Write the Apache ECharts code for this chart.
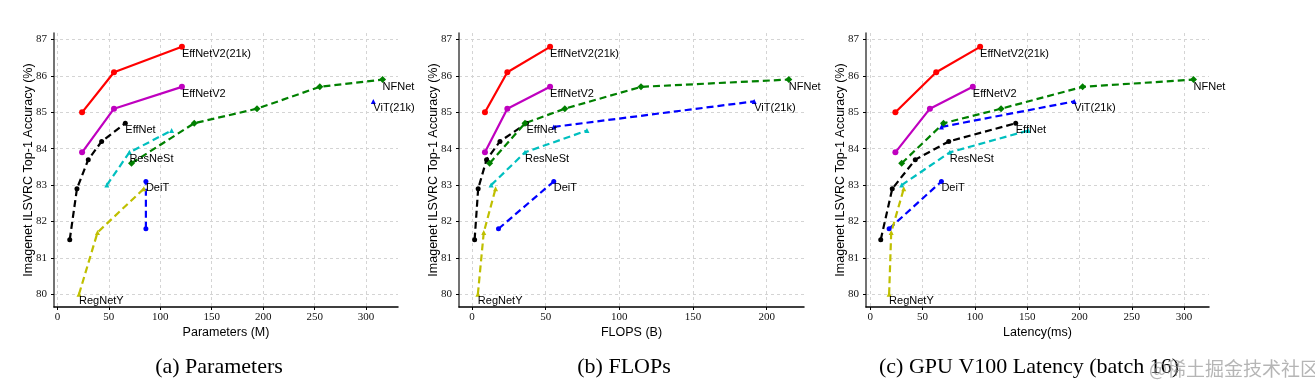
<!DOCTYPE html>
<html>
<head>
<meta charset="utf-8">
<script src="https://cdn.jsdelivr.net/npm/echarts@6/dist/echarts.min.js"></script>
<style>html,body{margin:0;padding:0;background:#fff}#c{width:1315px;height:384px}</style>
</head>
<body>
<div id="c"></div>
<script>
// ---- data ----
const models = ['EffNetV2(21k)', 'EffNetV2', 'EffNet', 'ResNeSt', 'NFNet', 'ViT(21k)', 'DeiT', 'RegNetY'];
const labelIndex = [2, 2, 4, 1, 4, 1, 1, 0];

const accEffNetV2_21k = [85.0, 86.1, 86.8];
const accEffNetV2 = [83.9, 85.1, 85.7];
const accEffNet = [81.5, 82.9, 83.7, 84.2, 84.7];
const accResNeSt = [83.0, 83.9, 84.5];
const accNFNet = [83.6, 84.7, 85.1, 85.7, 85.9];
const accViT = [84.6, 85.3];
const accDeiT = [81.8, 83.1];
const accRegNetY = [80.0, 81.7, 82.9];

const paramsEffNetV2_21k = [24, 55, 121];
const paramsEffNetV2 = [24, 55, 121];
const paramsEffNet = [12, 19, 30, 43, 66];
const paramsResNeSt = [48, 70, 111];
const paramsNFNet = [72, 133, 194, 255, 316];
const paramsViT = [null, 307];
const paramsDeiT = [86, 86];
const paramsRegNetY = [21, 39, 84];

const flopsEffNetV2_21k = [8.8, 24, 53];
const flopsEffNetV2 = [8.8, 24, 53];
const flopsEffNet = [1.8, 4.2, 9.9, 19, 37];
const flopsResNeSt = [13, 36, 78];
const flopsNFNet = [12, 36, 63, 114.7, 215];
const flopsViT = [55.5, 191.5];
const flopsDeiT = [18, 55.5];
const flopsRegNetY = [4.0, 8.0, 16.0];

const latEffNetV2_21k = [24, 63, 105];
const latEffNetV2 = [24, 57, 98];
const latEffNet = [10, 21, 43, 75, 139];
const latResNeSt = [30, 76, 151];
const latNFNet = [30, 70, 125, 203, 309];
const latViT = [68, 195];
const latDeiT = [18, 68];
const latRegNetY = [18, 20, 32];

const xTicksParams = [0, 50, 100, 150, 200, 250, 300];
const xTicksFlops = [0, 50, 100, 150, 200];
const xTicksLat = [0, 50, 100, 150, 200, 250, 300];
const yTicks = [80, 81, 82, 83, 84, 85, 86, 87];

const xTitles = ['Parameters (M)', 'FLOPS (B)', 'Latency(ms)'];
const yTitle = 'Imagenet ILSVRC Top-1 Accuracy (%)';
const captions = ['(a) Parameters', '(b) FLOPs', '(c) GPU V100 Latency (batch 16)'];

// ---- styles ----
const colors = ['#ff0000', '#bf00bf', '#000000', '#00bfbf', '#008000', '#0000ff', '#0000ff', '#bfbf00'];
const dashed = [false, false, true, true, true, true, true, true];
const symbols = ['circle', 'circle', 'circle', 'triangle', 'diamond', 'triangle', 'circle', 'triangle'];
const symSizes = [6, 6, 5, 5, 7, 5, 5, 5];

const accs = [accEffNetV2_21k, accEffNetV2, accEffNet, accResNeSt, accNFNet, accViT, accDeiT, accRegNetY];
const xsets = [
  [paramsEffNetV2_21k, paramsEffNetV2, paramsEffNet, paramsResNeSt, paramsNFNet, paramsViT, paramsDeiT, paramsRegNetY],
  [flopsEffNetV2_21k, flopsEffNetV2, flopsEffNet, flopsResNeSt, flopsNFNet, flopsViT, flopsDeiT, flopsRegNetY],
  [latEffNetV2_21k, latEffNetV2, latEffNet, latResNeSt, latNFNet, latViT, latDeiT, latRegNetY]
];
const xTickSets = [xTicksParams, xTicksFlops, xTicksLat];
const xRanges = [[-3.3, 331], [-8.8, 225.3], [-4.1, 323.8]];
const grids = [
  {left: 54, width: 344, top: 33, height: 274},
  {left: 459, width: 345, top: 33, height: 274},
  {left: 866, width: 343, top: 33, height: 274}
];

const SANS = '"Liberation Sans", Arial, sans-serif';
const SERIF = '"Liberation Serif", "Times New Roman", serif';

const xAxis = [], yAxis = [], series = [];
for (let p = 0; p < 3; p++) {
  xAxis.push({
    type: 'value', gridIndex: p, min: xRanges[p][0], max: xRanges[p][1],
    name: xTitles[p], nameLocation: 'middle', nameGap: 19, nameMoveOverlap: false,
    nameTextStyle: {fontFamily: SANS, fontSize: 12.5, color: '#000'},
    axisLine: {show: true, onZero: false, lineStyle: {color: '#000', width: 1.5}},
    axisTick: {show: true, length: 3, customValues: xTickSets[p], lineStyle: {color: '#000'}},
    axisLabel: {customValues: xTickSets[p], margin: 5, fontFamily: SERIF, fontSize: 11, color: '#111'},
    splitLine: {show: true, lineStyle: {color: '#d4d4d4', type: [3, 3], width: 1}}
  });
  yAxis.push({
    type: 'value', gridIndex: p, min: 79.65, max: 87.18,
    name: yTitle, nameLocation: 'middle', nameGap: 19, nameRotate: 90, nameMoveOverlap: false,
    nameTextStyle: {fontFamily: SANS, fontSize: 12.5, color: '#000'},
    axisLine: {show: true, onZero: false, lineStyle: {color: '#444', width: 1.5}},
    axisTick: {show: true, length: 3, customValues: yTicks, lineStyle: {color: '#000'}},
    axisLabel: {customValues: yTicks, margin: 7, fontFamily: SERIF, fontSize: 11, color: '#111'},
    splitLine: {show: true, lineStyle: {color: '#d4d4d4', type: [3, 3], width: 1}}
  });
  for (let m = 0; m < models.length; m++) {
    const xs = xsets[p][m];
    const data = [];
    for (let i = 0; i < xs.length; i++) {
      if (xs[i] == null) continue;
      const item = {value: [xs[i], accs[m][i]]};
      if (i === labelIndex[m]) {
        item.label = {
          show: true, formatter: models[m], position: [symSizes[m] / 2, symSizes[m] / 2 + 7],
          align: 'left', verticalAlign: 'middle',
          fontFamily: SANS, fontSize: 11, color: '#000'
        };
      }
      data.push(item);
    }
    series.push({
      type: 'line', name: models[m] + '_' + p, xAxisIndex: p, yAxisIndex: p,
      data: data, symbol: symbols[m], symbolSize: symSizes[m], showSymbol: true,
      itemStyle: {color: colors[m]},
      lineStyle: {color: colors[m], width: 2.2, type: dashed[m] ? [7, 4] : 'solid'},
      label: {show: false}, animation: false, z: 3
    });
  }
}

const capX = [219, 624, 1029];
const graphicEls = captions.map((t, i) => ({
  type: 'text', x: capX[i], y: 367,
  style: {text: t, fontFamily: SERIF, fontSize: 22, fill: '#000', align: 'center', verticalAlign: 'middle'}
}));
graphicEls.push({
  type: 'text', x: 1149, y: 369,
  style: {text: '@稀土掘金技术社区', fontFamily: '"Noto Sans CJK SC", sans-serif', fontSize: 19, fill: 'rgba(150,150,150,0.7)', align: 'left', verticalAlign: 'middle'}
});

const chart = echarts.init(document.getElementById('c'), null, {renderer: 'canvas'});
chart.setOption({
  animation: false,
  backgroundColor: '#fff',
  grid: grids,
  xAxis: xAxis,
  yAxis: yAxis,
  series: series,
  graphic: graphicEls
});
</script>
</body>
</html>
